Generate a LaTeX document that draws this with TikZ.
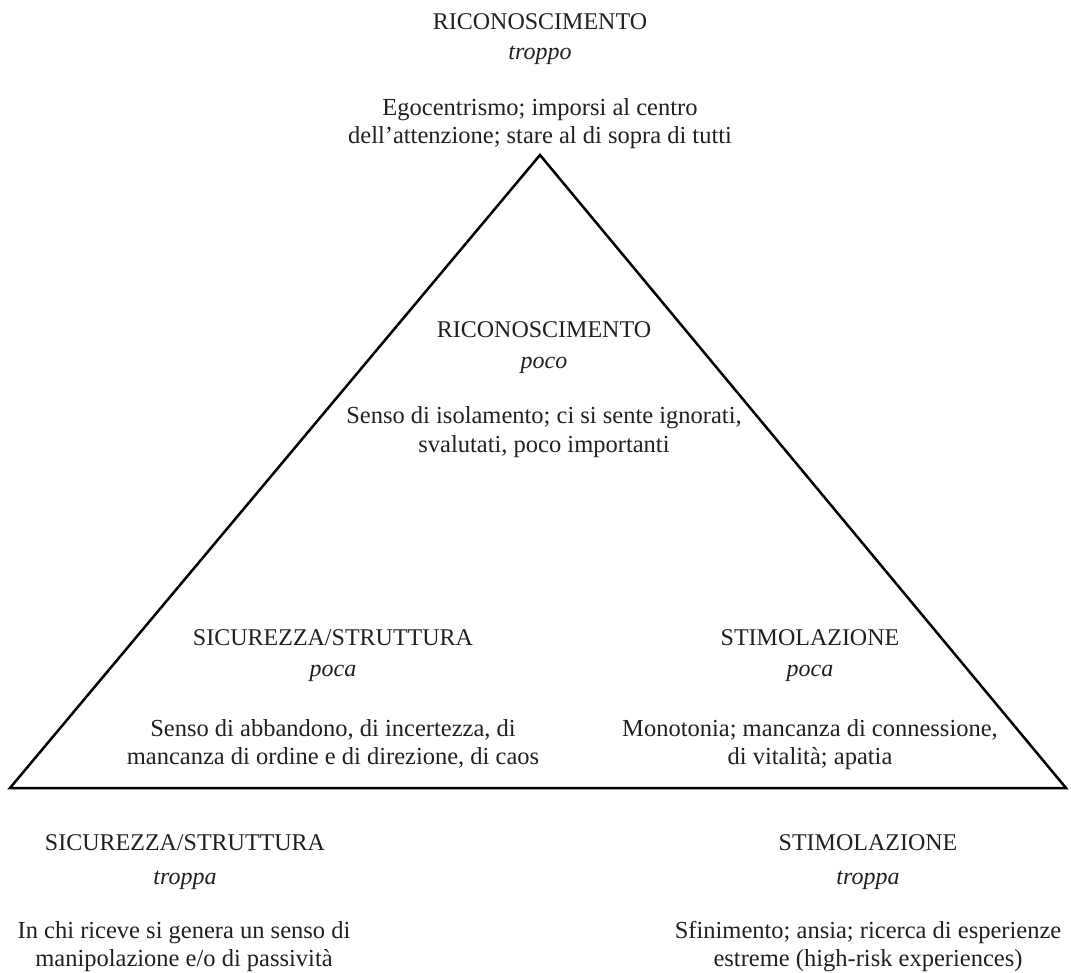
\documentclass[tikz,border=0pt]{standalone}
\usepackage{fontspec}
\setmainfont{Liberation Serif}
\definecolor{ink}{HTML}{231F20}
\begin{document}
\begin{tikzpicture}[x=1pt,y=-1pt,
  head/.style={font=\fontsize{24}{28}\selectfont, text=ink, inner sep=0pt, anchor=base},
  lab/.style={font=\fontsize{24}{28}\selectfont\itshape, text=ink, inner sep=0pt, anchor=base},
  body/.style={font=\fontsize{24.5}{28}\selectfont, text=ink, inner sep=0pt, anchor=base},
  tri/.style={draw=black, line width=2.5pt, line join=miter}]
\useasboundingbox (0,0) rectangle (1071,973);
\coordinate (A) at (540,155);
\coordinate (B) at (10,788);
\coordinate (C) at (1066,788);
\draw[tri] (A) -- (B) -- (C) -- cycle;
% top outside
\node[head] (h1) at (540,30) {RICONOSCIMENTO};
\node[lab] (l1) at (540,60) {troppo};
\node[body] (b1a) at (540,116) {Egocentrismo; imporsi al centro};
\node[body] (b1b) at (540,144) {dell’attenzione; stare al di sopra di tutti};
% top inside
\node[head] (h2) at (544,338) {RICONOSCIMENTO};
\node[lab] (l2) at (544,369) {poco};
\node[body] (b2a) at (544,424) {Senso di isolamento; ci si sente ignorati,};
\node[body] (b2b) at (544,452) {svalutati, poco importanti};
% left inside
\node[head] (h3) at (333,645) {SICUREZZA/STRUTTURA};
\node[lab] (l3) at (333,676) {poca};
\node[body] (b3a) at (333,736) {Senso di abbandono, di incertezza, di};
\node[body] (b3b) at (333,764) {mancanza di ordine e di direzione, di caos};
% right inside
\node[head] (h4) at (810,645) {STIMOLAZIONE};
\node[lab] (l4) at (810,676) {poca};
\node[body] (b4a) at (810,736) {Monotonia; mancanza di connessione,};
\node[body] (b4b) at (810,764) {di vitalità; apatia};
% bottom left
\node[head] (h5) at (185,850) {SICUREZZA/STRUTTURA};
\node[lab] (l5) at (185,884) {troppa};
\node[body] (b5a) at (184,938) {In chi riceve si genera un senso di};
\node[body] (b5b) at (184,966) {manipolazione e/o di passività};
% bottom right
\node[head] (h6) at (868,850) {STIMOLAZIONE};
\node[lab] (l6) at (868,884) {troppa};
\node[body] (b6a) at (868,938) {Sfinimento; ansia; ricerca di esperienze};
\node[body] (b6b) at (868,966) {estreme (high-risk experiences)};
\end{tikzpicture}
\end{document}
